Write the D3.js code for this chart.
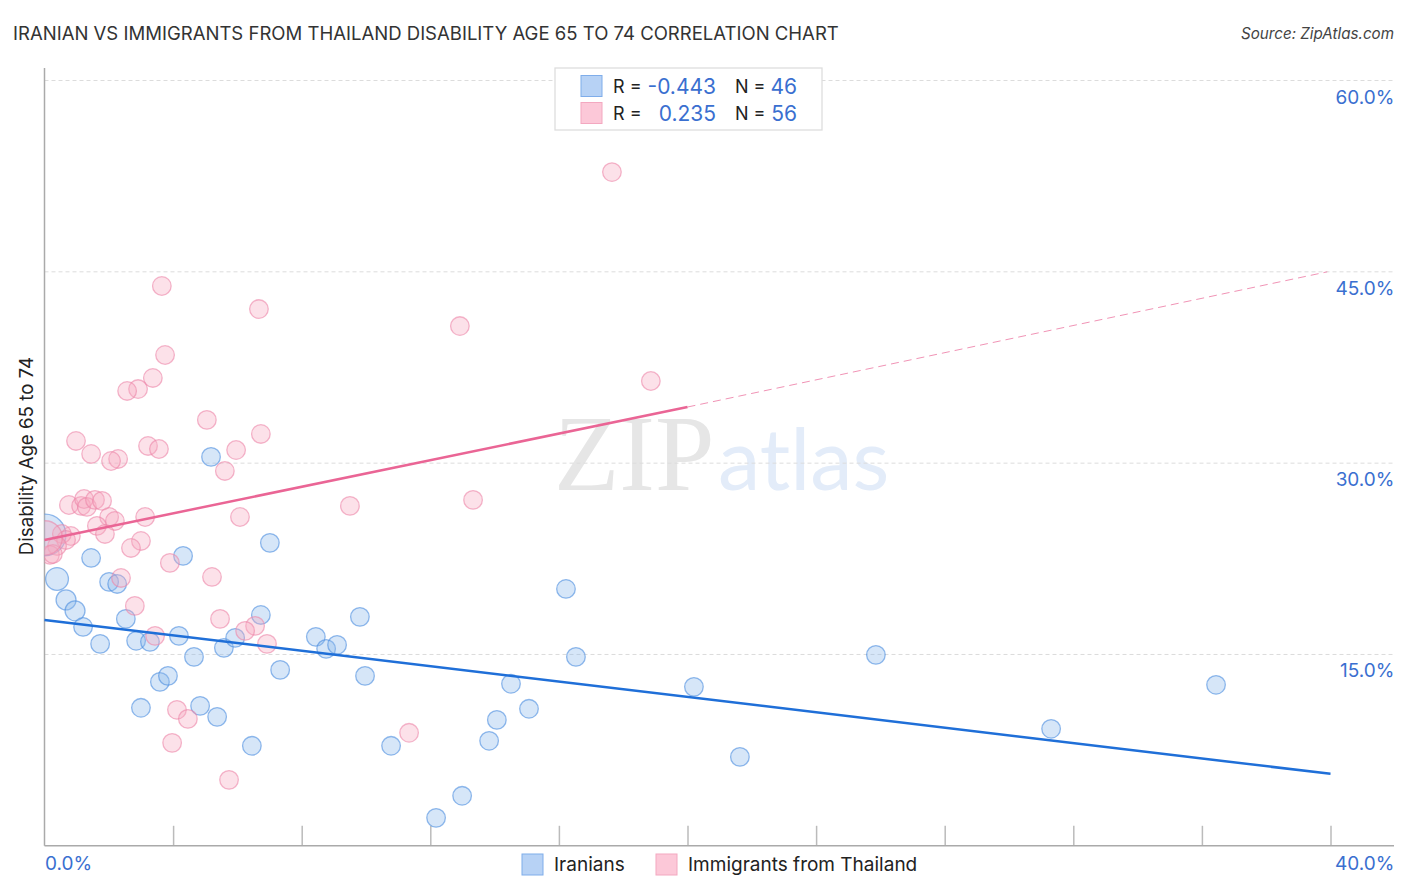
<!DOCTYPE html>
<html>
<head>
<meta charset="utf-8">
<script src="https://cdn.jsdelivr.net/npm/d3@7"></script>
<style>
  html, body { margin: 0; background: #fff; }
  svg { display: block; font-family: Inter, "Open Sans", sans-serif; }
  .value { fill: #3a6fd0; }
  .plain { fill: #222; }
</style>
</head>
<body>
<div id="chart"></div>
<script>
const iranianX = [0.02, 0.39, 0.67, 0.95, 1.20, 1.45, 1.73, 2.01, 2.26, 2.53, 2.85, 3.28, 3.00, 3.59, 3.84, 4.18, 4.31, 4.65, 4.84, 5.18, 5.37, 5.58, 5.93, 6.45, 6.73, 7.01, 7.33, 8.44, 8.76, 9.10, 9.81, 9.97, 10.78, 12.18, 12.99, 13.83, 14.07, 14.51, 15.07, 16.22, 16.53, 20.20, 21.63, 25.86, 31.31, 36.44];
const iranianY = [24.37, 20.92, 19.28, 18.42, 17.16, 22.57, 15.83, 20.69, 20.53, 17.79, 16.07, 15.99, 10.82, 12.85, 13.32, 16.46, 22.73, 14.81, 10.97, 30.49, 10.11, 15.52, 16.30, 7.84, 18.10, 23.75, 13.79, 16.38, 15.44, 15.75, 17.95, 13.32, 7.84, 2.19, 3.92, 8.23, 9.87, 12.70, 10.74, 20.14, 14.81, 12.46, 6.97, 14.97, 9.17, 12.62];
const iranianWeight = [5, 1.5, 1.15, 1.15, 1, 1, 1, 1, 1, 1, 1, 1, 1, 1, 1, 1, 1, 1, 1, 1, 1, 1, 1, 1, 1, 1, 1, 1, 1, 1, 1, 1, 1, 1, 1, 1, 1, 1, 1, 1, 1, 1, 1, 1, 1, 1];

const thailandX = [17.65, 3.65, 6.67, 3.75, 12.92, 18.86, 3.37, 2.91, 2.57, 5.05, 0.98, 3.22, 3.56, 5.96, 6.73, 1.45, 2.29, 2.07, 5.61, 13.33, 9.50, 0.76, 1.14, 1.23, 1.32, 1.57, 1.79, 2.01, 2.19, 1.63, 3.13, 6.08, 1.88, 3.00, 2.69, 0.82, 0.54, 0.67, 0.39, 0.17, 0.26, 3.90, 2.38, 5.21, 2.81, 5.46, 3.44, 6.55, 6.24, 6.92, 4.12, 4.46, 3.97, 5.74, 11.34, 0.02];
const thailandY = [52.82, 43.89, 42.08, 38.48, 40.75, 36.44, 36.68, 35.81, 35.66, 33.39, 31.74, 31.35, 31.11, 31.03, 32.29, 30.72, 30.33, 30.17, 29.39, 27.12, 26.65, 26.72, 26.65, 27.19, 26.57, 27.12, 27.04, 25.78, 25.47, 25.08, 25.78, 25.78, 24.45, 23.90, 23.35, 24.29, 24.45, 23.98, 23.51, 22.81, 22.88, 22.18, 21.00, 21.08, 18.81, 17.79, 16.46, 17.24, 16.85, 15.83, 10.66, 9.95, 8.07, 5.17, 8.86, 24.14];
const thailandWeight = [1, 1, 1, 1, 1, 1, 1, 1, 1, 1, 1, 1, 1, 1, 1, 1, 1, 1, 1, 1, 1, 1, 1, 1, 1, 1, 1, 1, 1, 1, 1, 1, 1, 1, 1, 1, 1, 1, 1, 1, 1, 1, 1, 1, 1, 1, 1, 1, 1, 1, 1, 1, 1, 1, 1, 3.4];

const iranianFit = [[0, 17.7], [40, 5.64]];
const thailandFit = [[0, 23.98], [20, 34.4]];
const thailandFitExtended = [[20, 34.4], [39.9, 45]];

const yTicks = [15, 30, 45, 60];
const xTicks = [0, 4, 8, 12, 16, 20, 24, 28, 32, 36, 40];

const width = 1406;
const height = 892;

const x = d3.scaleLinear().domain([0, 40]).range([44.5, 1330.5]);
const y = d3.scaleLinear().domain([0, 60]).range([845.8, 80.5]);
const r = d3.scaleSqrt().domain([0, 1]).range([0, 9.3]);

const svg = d3.select('#chart').append('svg').attr('width', width).attr('height', height);

// big bubbles on the left edge are cut off at the axis
svg.append('clipPath').attr('id', 'plot-clip')
  .append('rect')
  .attr('x', 44.5).attr('y', 68).attr('width', 1349.5).attr('height', 778);

svg.append('text')
  .attr('x', 13)
  .attr('y', 39.5)
  .attr('font-size', 18.55)
  .attr('fill', '#333')
  .text('IRANIAN VS IMMIGRANTS FROM THAILAND DISABILITY AGE 65 TO 74 CORRELATION CHART');

svg.append('text')
  .attr('x', 1394)
  .attr('y', 38.5)
  .attr('text-anchor', 'end')
  .attr('font-size', 15.2)
  .attr('font-style', 'italic')
  .attr('fill', '#444')
  .text('Source: ZipAtlas.com');

// watermark
svg.append('text')
  .attr('x', 554)
  .attr('y', 490)
  .attr('font-family', '"Liberation Serif", serif')
  .attr('font-size', 107)
  .attr('fill', '#e6e6e6')
  .text('ZIP');
svg.append('text')
  .attr('x', 718)
  .attr('y', 490)
  .attr('font-family', 'Lato, sans-serif')
  .attr('font-size', 85)
  .attr('fill', '#e3ecf9')
  .text('atlas');

svg.append('g').selectAll('line')
  .data(yTicks)
  .join('line')
  .attr('x1', 44.5)
  .attr('x2', 1394)
  .attr('y1', d => y(d))
  .attr('y2', d => y(d))
  .attr('stroke', '#dcdcdc')
  .attr('stroke-dasharray', '4 3');

const xAxis = d3.axisBottom(x).tickValues(xTicks.slice(1)).tickSize(-20).tickFormat('');
svg.append('g')
  .attr('transform', `translate(0,${y(0)})`)
  .call(xAxis)
  .call(g => g.select('.domain').remove())
  .call(g => g.selectAll('line').attr('stroke', '#bbb').attr('stroke-width', 1.5));

svg.append('line')
  .attr('x1', 44.5).attr('x2', 44.5)
  .attr('y1', 68).attr('y2', y(0))
  .attr('stroke', '#aaa').attr('stroke-width', 1.5);
svg.append('line')
  .attr('x1', 44.5).attr('x2', 1394)
  .attr('y1', y(0)).attr('y2', y(0))
  .attr('stroke', '#aaa').attr('stroke-width', 1.5);

svg.append('g').selectAll('text')
  .data(yTicks)
  .join('text')
  .attr('class', 'value')
  .attr('x', 1394.5)
  .attr('y', d => y(d) + 23)
  .attr('text-anchor', 'end')
  .attr('font-size', 19)
  .text(d => `${d.toFixed(1)}%`);

svg.append('text').attr('class', 'value').attr('x', 45).attr('y', 870)
  .attr('font-size', 19).text('0.0%');
svg.append('text').attr('class', 'value').attr('x', 1394.5).attr('y', 870)
  .attr('text-anchor', 'end').attr('font-size', 19).text('40.0%');

svg.append('text')
  .attr('transform', 'translate(33,456) rotate(-90)')
  .attr('text-anchor', 'middle')
  .attr('font-size', 18.7)
  .attr('fill', '#222')
  .text('Disability Age 65 to 74');

const plot = svg.append('g').attr('clip-path', 'url(#plot-clip)');

function drawPoints(xs, ys, weights, fill, stroke) {
  plot.append('g').selectAll('circle')
    .data(xs.map((d, i) => ({ x: d, y: ys[i], w: weights[i] })))
    .join('circle')
    .attr('cx', d => x(d.x))
    .attr('cy', d => y(d.y))
    .attr('r', d => r(d.w))
    .attr('fill', fill)
    .attr('fill-opacity', 0.35)
    .attr('stroke', stroke)
    .attr('stroke-opacity', 0.6)
    .attr('stroke-width', 1.3);
}

drawPoints(iranianX, iranianY, iranianWeight, '#8ab6ec', '#4a8ce0');
drawPoints(thailandX, thailandY, thailandWeight, '#f7a8c0', '#ec86a8');

const fitLine = d3.line().x(d => x(d[0])).y(d => y(d[1]));

svg.append('path')
  .attr('d', fitLine(iranianFit))
  .attr('fill', 'none')
  .attr('stroke', '#1f6fd8')
  .attr('stroke-width', 2.5);
svg.append('path')
  .attr('d', fitLine(thailandFit))
  .attr('fill', 'none')
  .attr('stroke', '#ea6595')
  .attr('stroke-width', 2.5);
svg.append('path')
  .attr('d', fitLine(thailandFitExtended))
  .attr('fill', 'none')
  .attr('stroke', '#ea6595')
  .attr('stroke-opacity', 0.7)
  .attr('stroke-dasharray', '8 5');

// R / N box
const box = svg.append('g');
box.append('rect')
  .attr('x', 555).attr('y', 68).attr('width', 267).attr('height', 62)
  .attr('fill', '#fff').attr('stroke', '#ddd').attr('stroke-width', 1.3);

const legendRows = [
  { fill: '#b7d2f5', stroke: '#7fadea', r: '-0.443', n: '46', y: 86 },
  { fill: '#fcc8d8', stroke: '#f3a8c0', r: '0.235', n: '56', y: 113 }
];
legendRows.forEach(row => {
  box.append('rect')
    .attr('x', 581).attr('y', row.y - 10.5).attr('width', 21).attr('height', 21)
    .attr('fill', row.fill).attr('stroke', row.stroke);
  box.append('text').attr('class', 'plain').attr('x', 613).attr('y', row.y + 7)
    .attr('font-size', 18).text('R =');
  box.append('text').attr('class', 'value').attr('x', 716).attr('y', row.y + 8)
    .attr('text-anchor', 'end').attr('font-size', 21).text(row.r);
  box.append('text').attr('class', 'plain').attr('x', 735).attr('y', row.y + 7)
    .attr('font-size', 18).text('N =');
  box.append('text').attr('class', 'value').attr('x', 797).attr('y', row.y + 8)
    .attr('text-anchor', 'end').attr('font-size', 21).text(row.n);
});

// bottom legend
const bottomLegend = [
  { label: 'Iranians', x: 522, fill: '#b7d2f5', stroke: '#7fadea' },
  { label: 'Immigrants from Thailand', x: 656, fill: '#fcc8d8', stroke: '#f3a8c0' }
];
bottomLegend.forEach(item => {
  svg.append('rect')
    .attr('x', item.x).attr('y', 854).attr('width', 21).attr('height', 21)
    .attr('fill', item.fill).attr('stroke', item.stroke);
  svg.append('text')
    .attr('class', 'plain')
    .attr('x', item.x + 32)
    .attr('y', 871)
    .attr('font-size', 19)
    .text(item.label);
});
</script>
</body>
</html>
